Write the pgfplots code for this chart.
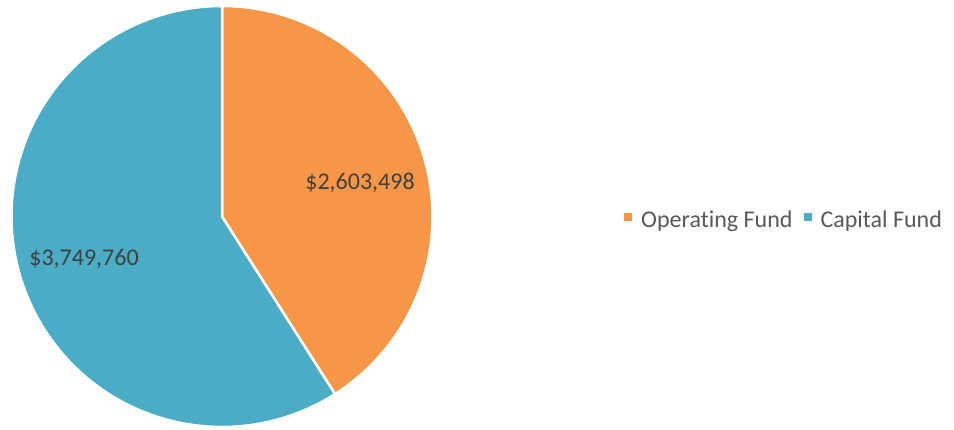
\documentclass[border=0pt]{standalone}
\usepackage{fontspec}
\setmainfont{Carlito}[Ligatures=NoCommon]
\usepackage{pgfplots}
\usepackage{pgfplotstable}
\pgfplotsset{compat=1.18}
\definecolor{opfund}{HTML}{F79646}
\definecolor{capfund}{HTML}{4BACC6}
\definecolor{lbl}{HTML}{404040}
\definecolor{leg}{HTML}{595959}
\pgfplotstableread{
fund value
Operating 2603498
Capital 3749760
}\fundtable
\pgfplotstablegetelem{0}{value}\of\fundtable\let\vA\pgfplotsretval
\pgfplotstablegetelem{1}{value}\of\fundtable\let\vB\pgfplotsretval
\edef\angA{\fpeval{360*\vA/(\vA+\vB)}}
\edef\splitA{\fpeval{90-\angA}}
\edef\endB{\fpeval{90-\angA-360*\vB/(\vA+\vB)}}
\begin{document}%
\begin{tikzpicture}
\begin{axis}[
  width=954pt, height=430pt, scale only axis,
  xmin=0, xmax=954, ymin=0, ymax=430,
  hide axis, clip=false,
  legend columns=2,
  legend style={at={(axis cs:621,210)}, anchor=west, draw=none, fill=none,
    font=\fontsize{24}{28}\selectfont\color{leg},
    /tikz/every even column/.append style={column sep=9pt}},
  legend image code/.code={\fill[#1,draw=none] (0pt,-1pt) rectangle (8pt,7pt); \path[draw=none,fill=none] (0pt,3pt) -- (15pt,3pt);},
]
\addplot[fill=opfund, draw=white, line width=2.5pt, domain=\splitA:90, samples=181]
  ({222+210.5*cos(x)},{213.5+210.5*sin(x)}) -- (axis cs:222,213.5) -- cycle;
\addlegendentry{Operating Fund}
\addplot[fill=capfund, draw=white, line width=2.5pt, domain=\endB:\splitA, samples=241]
  ({222+210.5*cos(x)},{213.5+210.5*sin(x)}) -- (axis cs:222,213.5) -- cycle;
\addlegendentry{Capital Fund}
\node[font=\fontsize{24}{28}\selectfont, text=lbl] at (axis cs:360,247) {\$2,603,498};
\node[font=\fontsize{24}{28}\selectfont, text=lbl] at (axis cs:84,171) {\$3,749,760};
\end{axis}
\pgfresetboundingbox
\useasboundingbox (0,0) rectangle (954pt,430pt);
\end{tikzpicture}%
\end{document}
